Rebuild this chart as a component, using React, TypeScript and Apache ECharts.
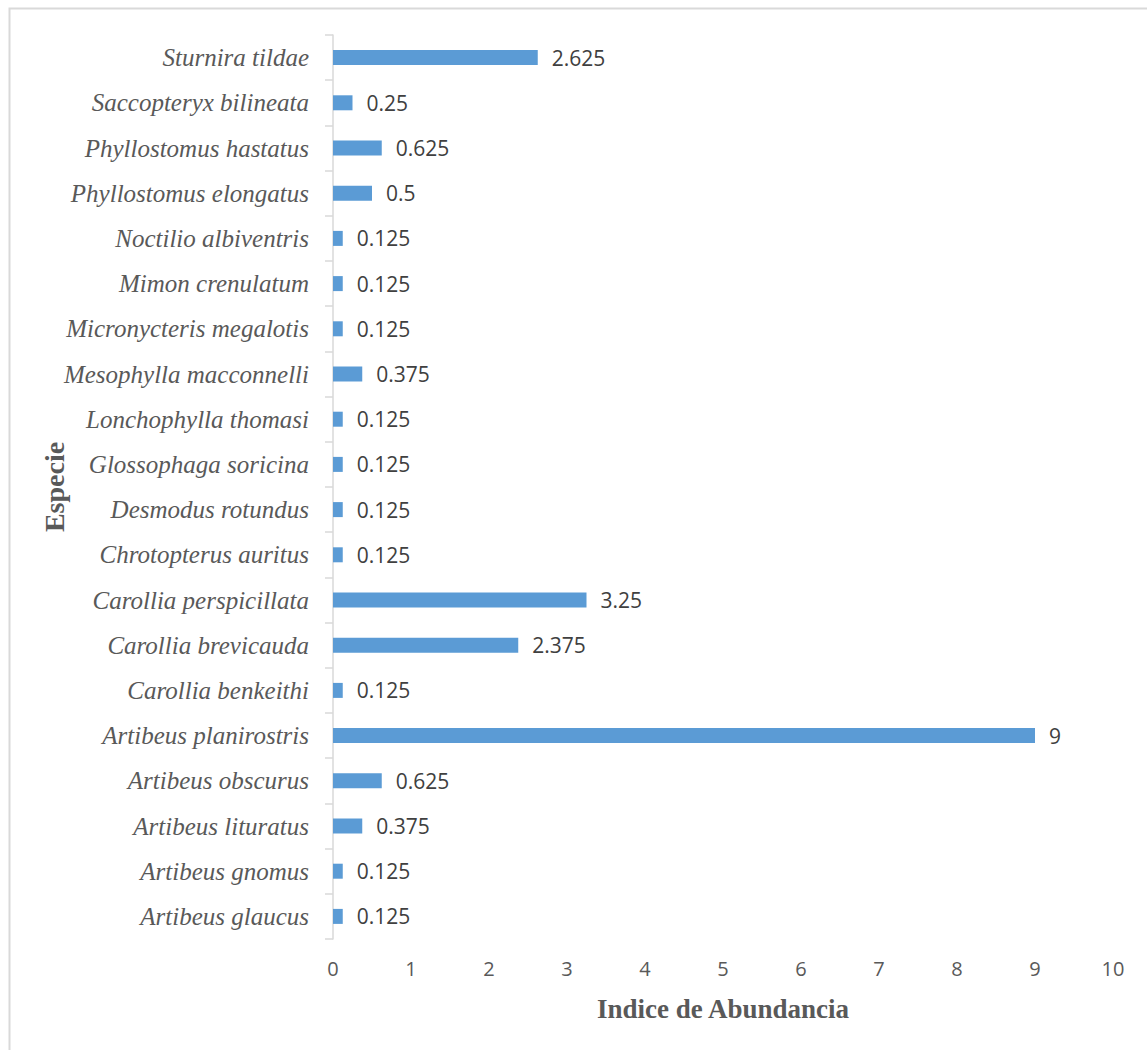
import React, { useEffect, useRef } from "react";
import * as echarts from "echarts";

// Species, listed from the bottom of the axis to the top
const species: string[] = [
  "Artibeus glaucus",
  "Artibeus gnomus",
  "Artibeus lituratus",
  "Artibeus obscurus",
  "Artibeus planirostris",
  "Carollia benkeithi",
  "Carollia brevicauda",
  "Carollia perspicillata",
  "Chrotopterus auritus",
  "Desmodus rotundus",
  "Glossophaga soricina",
  "Lonchophylla thomasi",
  "Mesophylla macconnelli",
  "Micronycteris megalotis",
  "Mimon crenulatum",
  "Noctilio albiventris",
  "Phyllostomus elongatus",
  "Phyllostomus hastatus",
  "Saccopteryx bilineata",
  "Sturnira tildae",
];

// Abundance index per species
const abundance: number[] = [
  0.125, 0.125, 0.375, 0.625, 9, 0.125, 2.375, 3.25, 0.125, 0.125,
  0.125, 0.125, 0.375, 0.125, 0.125, 0.125, 0.5, 0.625, 0.25, 2.625,
];

const xMin = 0;
const xMax = 10;
const xStep = 1;

const serif = "'Liberation Serif', 'DejaVu Serif', serif";
const sans = "'Open Sans', 'Liberation Sans', sans-serif";

export default function App() {
  const ref = useRef<HTMLDivElement>(null);

  useEffect(() => {
    if (!ref.current) return;
    const chart = echarts.init(ref.current, undefined, { renderer: "svg" });
    chart.setOption({
      animation: false,
      backgroundColor: "#ffffff",
      graphic: [
        {
          type: "rect",
          left: 7,
          top: 6,
          shape: { width: 1200, height: 1100 },
          style: { fill: "none", stroke: "#d9d9d9", lineWidth: 2 },
          silent: true,
        },
      ],
      grid: {
        left: 333,
        right: 34,
        top: 35,
        bottom: 111,
        containLabel: false,
        outerBoundsMode: "none",
      },
      xAxis: {
        type: "value",
        min: xMin,
        max: xMax,
        interval: xStep,
        axisLine: { show: false },
        axisTick: { show: false },
        splitLine: { show: false },
        axisLabel: {
          color: "#595959",
          fontFamily: sans,
          fontSize: 20,
          margin: 19,
        },
        name: "Indice de Abundancia",
        nameLocation: "middle",
        nameGap: 56,
        nameMoveOverlap: false,
        nameTextStyle: {
          color: "#595959",
          fontFamily: serif,
          fontWeight: "bold",
          fontSize: 27,
        },
      },
      yAxis: {
        type: "category",
        data: species,
        axisLine: { show: true, lineStyle: { color: "#d9d9d9", width: 1.5 } },
        axisTick: { show: true, length: 8, lineStyle: { color: "#d9d9d9", width: 1.5 } },
        splitLine: { show: false },
        axisLabel: {
          color: "#595959",
          fontFamily: serif,
          fontStyle: "italic",
          fontSize: 25,
          margin: 24,
        },
        name: "Especie",
        nameLocation: "middle",
        nameGap: 265,
        nameRotate: 90,
        nameMoveOverlap: false,
        nameTextStyle: {
          color: "#595959",
          fontFamily: serif,
          fontWeight: "bold",
          fontSize: 28,
        },
      },
      series: [
        {
          type: "bar",
          data: abundance,
          barWidth: 15,
          itemStyle: { color: "#5b9bd5" },
          label: {
            show: true,
            position: "right",
            distance: 14,
            color: "#404040",
            fontFamily: sans,
            fontSize: 21,
          },
        },
      ],
    });
    return () => chart.dispose();
  }, []);

  return (
    <div
      ref={ref}
      style={{ position: "absolute", left: 0, top: 0, width: 1147, height: 1050 }}
    />
  );
}
